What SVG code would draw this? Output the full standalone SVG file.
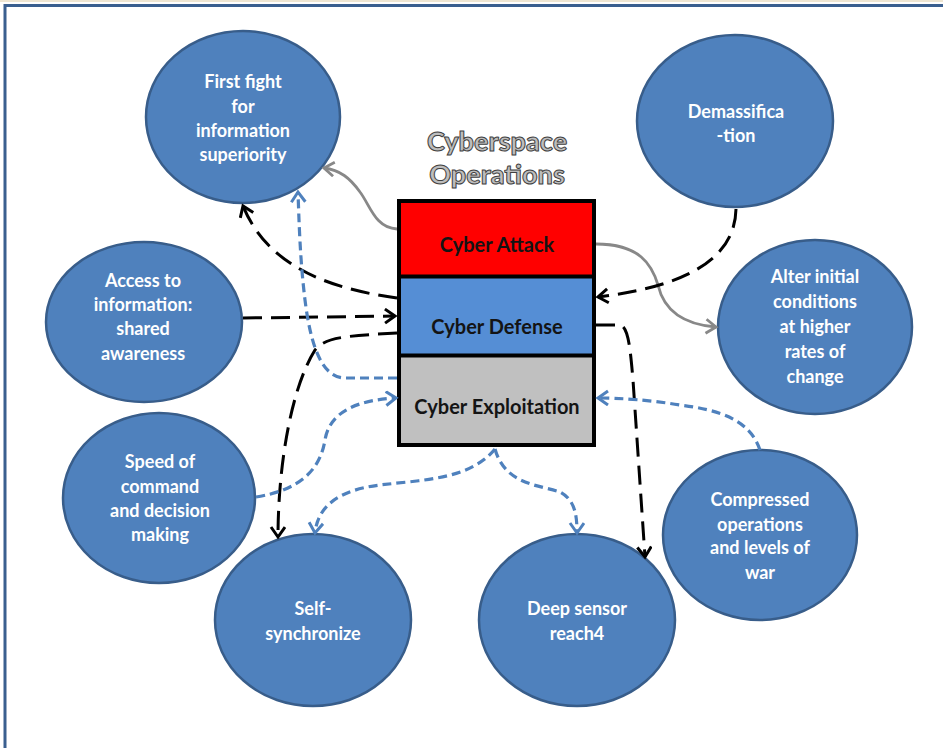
<svg xmlns="http://www.w3.org/2000/svg" width="943" height="748" viewBox="0 0 943 748">
<style>
.node ellipse{fill:#4F81BD;stroke:#385D8A;stroke-width:2.5}
.node text{font-family:Lato,"Open Sans",sans-serif;font-weight:bold;font-size:18px;fill:#FFFFFF;text-anchor:middle}
.box text{font-family:Lato,"Open Sans",sans-serif;font-weight:bold;font-size:20px;fill:#141414;text-anchor:middle}
.title{font-family:Lato,"Open Sans",sans-serif;font-weight:900;font-size:27px;fill:#BDBDBD;stroke:#404040;stroke-width:1;text-anchor:middle}
.blk{fill:none;stroke:#000;stroke-width:3;stroke-dasharray:19 9;marker-end:url(#ab)}
.gry{fill:none;stroke:#888;stroke-width:2.8;marker-end:url(#ag)}
.blu{fill:none;stroke:#4F81BD;stroke-width:3.2;stroke-dasharray:9 5;marker-end:url(#au)}
</style>
<defs>
<marker id="ab" markerUnits="userSpaceOnUse" markerWidth="18" markerHeight="18" refX="12" refY="8" orient="auto"><path d="M2,1 L12,8 L2,15" fill="none" stroke="#000" stroke-width="3"/></marker>
<marker id="ag" markerUnits="userSpaceOnUse" markerWidth="18" markerHeight="18" refX="12" refY="8" orient="auto"><path d="M2,1 L12,8 L2,15" fill="none" stroke="#888" stroke-width="2.8"/></marker>
<marker id="au" markerUnits="userSpaceOnUse" markerWidth="18" markerHeight="18" refX="12" refY="8" orient="auto"><path d="M2,1 L12,8 L2,15" fill="none" stroke="#4F81BD" stroke-width="3"/></marker>
</defs>
<rect x="0" y="0" width="943" height="748" fill="#FFFFFF"/>
<line x1="0" y1="1" x2="943" y2="1" stroke="#EFE6D2" stroke-width="2"/>
<path d="M5,748 L5,5.5 L943,5.5" fill="none" stroke="#3A5F8F" stroke-width="3"/>

<g id="n-first" class="node"><ellipse cx="243" cy="117" rx="97" ry="86"/>
<text x="243" y="88">First fight</text><text x="243" y="113">for</text><text x="243" y="137">information</text><text x="243" y="161">superiority</text></g>
<g id="n-demass" class="node"><ellipse cx="735" cy="121" rx="98" ry="86"/>
<text x="736" y="118">Demassifica</text><text x="736" y="142">-tion</text></g>
<g id="n-alter" class="node"><ellipse cx="815" cy="327" rx="97" ry="87"/>
<text x="815" y="283">Alter initial</text><text x="815" y="308">conditions</text><text x="815" y="333">at higher</text><text x="815" y="358">rates of</text><text x="815" y="383">change</text></g>
<g id="n-access" class="node"><ellipse cx="144" cy="322" rx="98" ry="80"/>
<text x="143" y="287">Access to</text><text x="143" y="311">information:</text><text x="143" y="335">shared</text><text x="143" y="360">awareness</text></g>
<g id="n-speed" class="node"><ellipse cx="159" cy="498" rx="96" ry="85"/>
<text x="160" y="468">Speed of</text><text x="160" y="493">command</text><text x="160" y="517">and decision</text><text x="160" y="541">making</text></g>
<g id="n-self" class="node"><ellipse cx="313" cy="620" rx="98" ry="86"/>
<text x="313" y="615">Self-</text><text x="313" y="640">synchronize</text></g>
<g id="n-deep" class="node"><ellipse cx="577" cy="620" rx="98" ry="86"/>
<text x="577" y="615">Deep sensor</text><text x="577" y="640">reach4</text></g>
<g id="n-compressed" class="node"><ellipse cx="760" cy="535" rx="97" ry="85"/>
<text x="760" y="506">Compressed</text><text x="760" y="531">operations</text><text x="760" y="554">and levels of</text><text x="760" y="579">war</text></g>

<g id="title"><text class="title" x="497" y="151">Cyberspace</text><text class="title" x="497" y="184">Operations</text></g>

<g id="box" class="box">
<rect x="399" y="201" width="195" height="76" fill="#FF0000"/>
<rect x="399" y="277" width="195" height="79" fill="#558ED5"/>
<rect x="399" y="356" width="195" height="89" fill="#C0C0C0"/>
<line x1="399" y1="276.5" x2="594" y2="276.5" stroke="#000" stroke-width="4"/>
<line x1="399" y1="355.5" x2="594" y2="355.5" stroke="#000" stroke-width="4"/>
<rect x="399" y="201" width="195" height="244" fill="none" stroke="#000" stroke-width="4"/>
<text x="497" y="252">Cyber Attack</text>
<text x="497" y="334">Cyber Defense</text>
<text x="497" y="414">Cyber Exploitation</text>
</g>

<g id="connectors">
<path class="gry" d="M397,229 C375,228 370,205 360,192 C350,178 340,170 324,168"/>
<path class="gry" d="M596,244 C640,244 652,265 658,285 C665,315 690,325 716,327"/>
<path class="blk" d="M397,298 C340,290 270,272 243,206"/>
<path class="blk" d="M243,318 L395,316"/>
<path class="blk" d="M397,333 C340,336 325,338 315,350 C290,390 278,470 278,537"/>
<path class="blk" d="M736,209 C735,262 680,287 598,297"/>
<path class="blk" d="M596,325 L620,325 C628,327 630,345 633,380 L645,557"/>
<path class="blu" d="M397,378 L345,378 C320,378 310,340 305,300 C300,260 299,220 298,192"/>
<path class="blu" d="M256,497 C300,490 320,470 325,440 C330,410 360,400 396,398"/>
<path class="blu" d="M495,449 C470,480 420,480 380,485 C340,490 318,505 315,533"/>
<path class="blu" d="M495,449 C505,485 540,485 560,492 C575,500 577,515 577,533"/>
<path class="blu" d="M760,450 C750,420 720,410 680,405 C650,400 620,398 598,398"/>
</g>
</svg>
